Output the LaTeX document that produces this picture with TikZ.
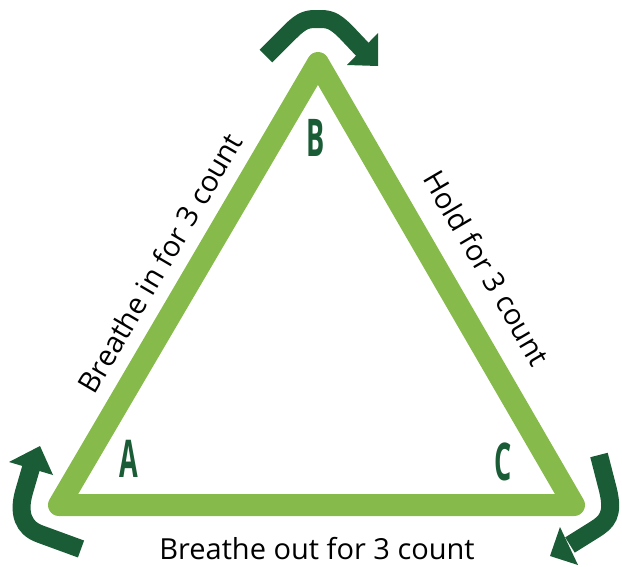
\documentclass[tikz,border=0pt]{standalone}
\usepackage{fontspec}
\setmainfont{Open Sans}
\newfontfamily\letterfont{Open Sans}
\definecolor{lgreen}{HTML}{86BA4A}
\definecolor{dgreen}{HTML}{1A5C35}
\begin{document}
\begin{tikzpicture}[x=1pt,y=-1pt,
  band/.style={draw=dgreen,line width=18pt},
  head/.style={fill=dgreen},
  lbl/.style={font=\fontsize{29}{29}\selectfont, text=black, inner sep=0pt},
  letter/.style={font=\letterfont\bfseries\fontsize{52}{52}\selectfont, text=dgreen, inner sep=0pt, xscale=0.52, transform shape}]
\useasboundingbox (0,0) rectangle (622,566);
% triangle
\coordinate (A) at (59,505);
\coordinate (B) at (318,63);
\coordinate (C) at (574,505);
\draw[lgreen, line width=22pt, line join=round] (A) -- (B) -- (C) -- cycle;
% letters
\node[letter] (la) at (129,459) {A};
\node[letter] (lb) at (316,138) {B};
\node[letter] (lc) at (503,462) {C};
% labels
\node[lbl, rotate=59.6] (tin) at (160,263) {Breathe in for 3 count};
\node[lbl, rotate=-59.6] (thold) at (487,268) {Hold for 3 count};
\node[lbl] (tout) at (317,549) {Breathe out for 3 count};
% top arrow
\draw[band] (266,56) -- (290,32) .. controls (303,19) and (308,19) .. (318,19) .. controls (328,19) and (333,19) .. (346,32) -- (363,50);
\fill[head] (378,33) -- (378,66) -- (347,65) -- cycle;
% left arrow
\draw[band] (31,468) -- (24,492) .. controls (18,513) and (23,528) .. (40,534) -- (81,549);
\fill[head] (40,446) -- (9,462) -- (53,475) -- cycle;
% right arrow
\draw[band] (599,455) -- (608,490) .. controls (614,515) and (607,522) .. (594,530) -- (570,545);
\fill[head] (560,527) -- (550,556) -- (578,565) -- cycle;
\end{tikzpicture}
\end{document}
